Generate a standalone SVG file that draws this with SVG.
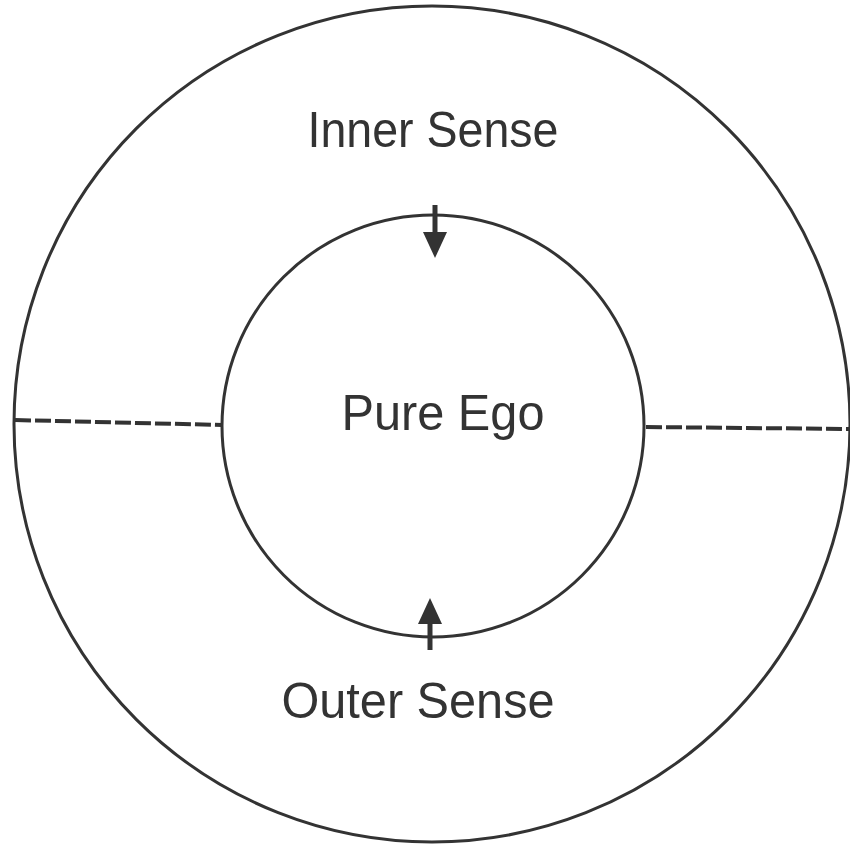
<svg xmlns="http://www.w3.org/2000/svg" width="850" height="845" viewBox="0 0 850 845">
<style>
.ring{fill:none;stroke:#333;stroke-width:3}
.dash{fill:none;stroke:#333;stroke-width:4;stroke-dasharray:16 4}
.lbl{font-family:"Liberation Sans","DejaVu Sans",sans-serif;font-size:50px;fill:#333;text-anchor:middle}
.arr{fill:#333;stroke:none}
.shaft{stroke:#333;stroke-width:5;fill:none}
</style>
<rect width="850" height="845" fill="#fff"/>
<g id="outer-circle"><circle class="ring" cx="432" cy="424" r="418"/></g>
<g id="inner-circle"><circle class="ring" cx="433" cy="426" r="211"/></g>
<g id="connectors">
<path class="dash" d="M15 420 L222 425"/>
<path class="dash" d="M646 427 L850 429"/>
<path class="shaft" d="M435 205 L435 236"/>
<path class="arr" d="M423 232 L447 232 L435 258 Z"/>
<path class="shaft" d="M430 620 L430 650"/>
<path class="arr" d="M418 624 L442 624 L430 598 Z"/>
</g>
<g id="inner-sense"><text class="lbl" x="433" y="147" textLength="251" lengthAdjust="spacingAndGlyphs">Inner Sense</text></g>
<g id="pure-ego"><text class="lbl" x="443" y="430" textLength="203" lengthAdjust="spacingAndGlyphs">Pure Ego</text></g>
<g id="outer-sense"><text class="lbl" x="418" y="718" textLength="273" lengthAdjust="spacingAndGlyphs">Outer Sense</text></g>
</svg>
